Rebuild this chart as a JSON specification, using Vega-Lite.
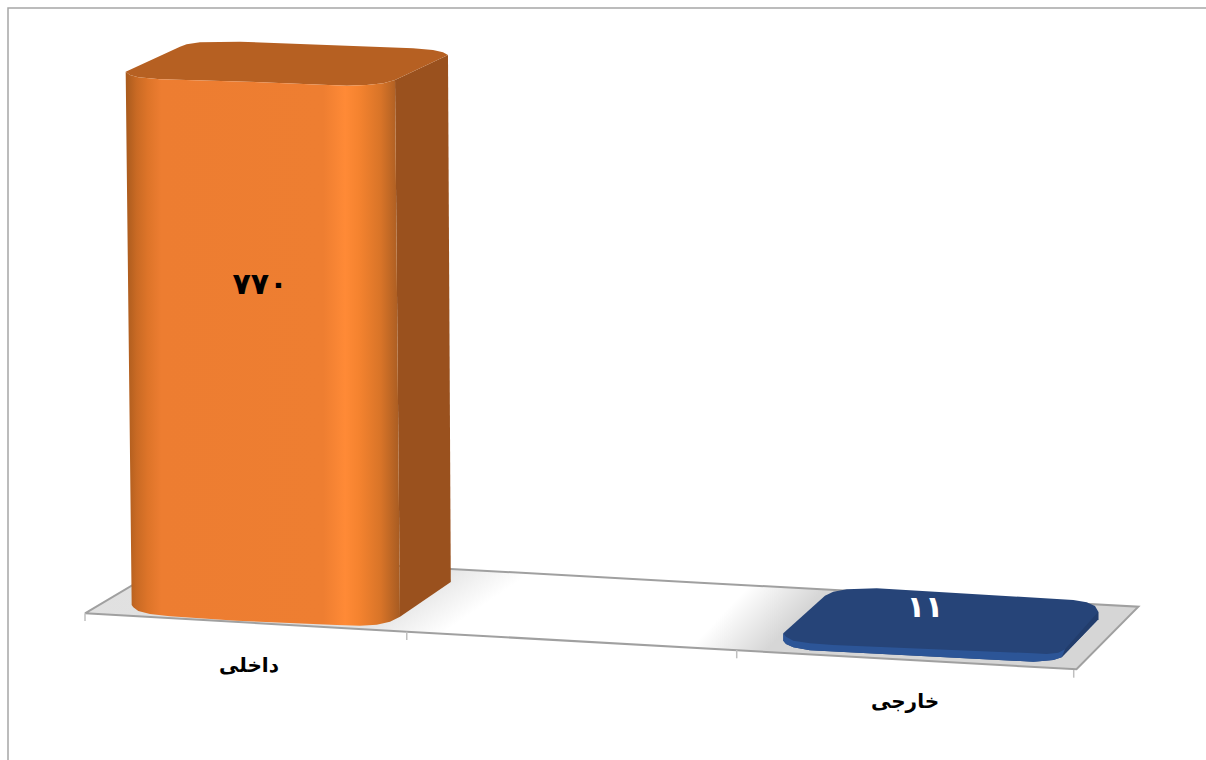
{
  "$schema": "https://vega.github.io/schema/vega-lite/v6.json",
  "width": 1198,
  "height": 752,
  "padding": {"left": 8, "top": 8, "right": 0, "bottom": 0},
  "autosize": {"type": "none"},
  "background": "white",
  "config": {"view": {"stroke": null}},
  "datasets": {
    "bars": [
      {"category": "داخلی", "value": 770, "label": "۷۷۰", "axisPos": 0.3313, "axisLevel": -65.7, "labelPos": 0.3535, "labelLevel": 478},
      {"category": "خارجی", "value": 11, "label": "۱۱", "axisPos": 1.6566, "axisLevel": -117.1, "labelPos": 1.697, "labelLevel": 17.1}
    ],
    "frame": [
      {"pos": -0.15556, "height": -200},
      {"pos": -0.15556, "height": 874.29},
      {"pos": 2.26465, "height": 874.29}
    ],
    "floor": [
      {"pos": 0, "height": 9.6},
      {"pos": 0.202, "height": 94.3},
      {"pos": 0.739, "height": 72.9},
      {"pos": 1.242, "height": 53.3},
      {"pos": 2.128, "height": 19},
      {"pos": 2.003, "height": -70.4},
      {"pos": 0.65, "height": -16.7},
      {"pos": 0, "height": 9.6}
    ],
    "shadeLeft": [
      {"pos": 0, "height": 9.6},
      {"pos": 0.202, "height": 94.3},
      {"pos": 0.919, "height": 65.9},
      {"pos": 0.717, "height": -19.3}
    ],
    "shadeRight": [
      {"pos": 1.222, "height": -39.3},
      {"pos": 1.343, "height": 49.3},
      {"pos": 2.128, "height": 19},
      {"pos": 2.003, "height": -70.4}
    ],
    "ticks": [
      {"pos": 0, "height": 9.6, "end": -1.4},
      {"pos": 0.65, "height": -16.7, "end": -28.6},
      {"pos": 1.3166, "height": -42.9, "end": -54.7},
      {"pos": 1.9974, "height": -71.4, "end": -82.4}
    ],
    "orangeSide": [
      {"pos": 0.6263, "height": 771.4},
      {"pos": 0.7333, "height": 807.1},
      {"pos": 0.739, "height": 54.3},
      {"pos": 0.6364, "height": 4.7}
    ],
    "orangeTop": [
      {"pos": 0.0822, "height": 783.3},
      {"pos": 0.1919, "height": 819},
      {"pos": 0.2053, "height": 822.4},
      {"pos": 0.2323, "height": 825.3},
      {"pos": 0.3131, "height": 826.1},
      {"pos": 0.6626, "height": 816.7},
      {"pos": 0.703, "height": 814.3},
      {"pos": 0.7232, "height": 811},
      {"pos": 0.7333, "height": 807.1},
      {"pos": 0.6263, "height": 771.4},
      {"pos": 0.6027, "height": 766.7},
      {"pos": 0.5691, "height": 764.3},
      {"pos": 0.5287, "height": 763.3},
      {"pos": 0.3267, "height": 769},
      {"pos": 0.1515, "height": 772.4},
      {"pos": 0.1077, "height": 775.3},
      {"pos": 0.0909, "height": 778.6}
    ],
    "orangeFront": [
      {"pos": 0.0822, "height": 783.3},
      {"pos": 0.0909, "height": 778.6},
      {"pos": 0.1077, "height": 775.3},
      {"pos": 0.1515, "height": 772.4},
      {"pos": 0.3267, "height": 769},
      {"pos": 0.5287, "height": 763.3},
      {"pos": 0.5691, "height": 764.3},
      {"pos": 0.6027, "height": 766.7},
      {"pos": 0.6263, "height": 771.4},
      {"pos": 0.6364, "height": 4.7},
      {"pos": 0.6162, "height": -2.4},
      {"pos": 0.5893, "height": -6.7},
      {"pos": 0.5556, "height": -8.1},
      {"pos": 0.5085, "height": -7.1},
      {"pos": 0.3065, "height": -1},
      {"pos": 0.1717, "height": 5.3},
      {"pos": 0.1313, "height": 8.6},
      {"pos": 0.1077, "height": 12.9},
      {"pos": 0.0976, "height": 18.1},
      {"pos": 0.0943, "height": 21.4}
    ],
    "blueTop": [
      {"pos": 1.4107, "height": -19},
      {"pos": 1.4949, "height": 34.7},
      {"pos": 1.5117, "height": 40.4},
      {"pos": 1.5388, "height": 43.8},
      {"pos": 1.5994, "height": 45.3},
      {"pos": 1.9966, "height": 28.6},
      {"pos": 2.0236, "height": 25.3},
      {"pos": 2.0404, "height": 20},
      {"pos": 2.0471, "height": 11.9},
      {"pos": 2.0471, "height": 1},
      {"pos": 1.9731, "height": -53.3},
      {"pos": 1.9562, "height": -57.1},
      {"pos": 1.9158, "height": -59.6},
      {"pos": 1.4646, "height": -43.3},
      {"pos": 1.4309, "height": -39},
      {"pos": 1.4162, "height": -34.3},
      {"pos": 1.4107, "height": -29.6}
    ],
    "blueSide": [
      {"pos": 2.0471, "height": 11.9},
      {"pos": 2.0471, "height": 1},
      {"pos": 1.9731, "height": -53.3},
      {"pos": 1.9798, "height": -41.9}
    ],
    "blueFront": [
      {"pos": 1.4107, "height": -19},
      {"pos": 1.4162, "height": -23.9},
      {"pos": 1.4309, "height": -29.6},
      {"pos": 1.4646, "height": -33.3},
      {"pos": 1.5117, "height": -35.7},
      {"pos": 1.9158, "height": -47.6},
      {"pos": 1.9428, "height": -48.6},
      {"pos": 1.9663, "height": -46.7},
      {"pos": 1.9798, "height": -41.9},
      {"pos": 1.9731, "height": -53.3},
      {"pos": 1.9562, "height": -57.1},
      {"pos": 1.9293, "height": -59},
      {"pos": 1.9158, "height": -59.6},
      {"pos": 1.4646, "height": -43.3},
      {"pos": 1.4309, "height": -39},
      {"pos": 1.4162, "height": -34.3},
      {"pos": 1.4107, "height": -29.6}
    ]
  },
  "encoding": {
    "x": {"field": "pos", "type": "quantitative", "axis": null, "scale": {"domain": [-0.15556, 2.26465], "nice": false, "zero": false}},
    "y": {"field": "height", "type": "quantitative", "axis": null, "scale": {"domain": [-200, 874.29], "nice": false, "zero": false}},
    "order": {"value": null}
  },
  "layer": [
    {"data": {"name": "frame"}, "mark": {"type": "line", "stroke": "#a6a6a6", "strokeWidth": 1.5}},
    {"data": {"name": "floor"}, "mark": {"type": "line", "stroke": null, "fill": "#ffffff"}},
    {
      "data": {"name": "shadeLeft"},
      "mark": {
        "type": "line",
        "stroke": null,
        "fill": {
          "gradient": "linear", "x1": 0, "y1": 0, "x2": 0.977, "y2": 0.25,
          "stops": [
            {"offset": 0, "color": "#e0e0e0"},
            {"offset": 0.8, "color": "#e2e2e2"},
            {"offset": 1, "color": "#ffffff"}
          ]
        }
      }
    },
    {
      "data": {"name": "shadeRight"},
      "mark": {
        "type": "line",
        "stroke": null,
        "fill": {
          "gradient": "linear", "x1": 0.1295, "y1": 0.0234, "x2": 0.3, "y2": 0.054,
          "stops": [
            {"offset": 0, "color": "#ffffff"},
            {"offset": 1, "color": "#d6d6d6"}
          ]
        }
      }
    },
    {"data": {"name": "floor"}, "mark": {"type": "line", "stroke": "#a0a0a0", "strokeWidth": 2}},
    {
      "data": {"name": "ticks"},
      "mark": {"type": "rule", "stroke": "#bfbfbf", "strokeWidth": 1.5},
      "encoding": {"y2": {"field": "end"}}
    },
    {"data": {"name": "orangeSide"}, "mark": {"type": "line", "stroke": null, "fill": "#9a511e"}},
    {"data": {"name": "orangeTop"}, "mark": {"type": "line", "stroke": null, "fill": "#b66022"}},
    {
      "data": {"name": "orangeFront"},
      "mark": {
        "type": "line",
        "stroke": null,
        "fill": {
          "gradient": "linear", "x1": 0, "y1": 0, "x2": 1, "y2": 0,
          "stops": [
            {"offset": 0, "color": "#a85a1d"},
            {"offset": 0.04, "color": "#c96a24"},
            {"offset": 0.08, "color": "#dd7429"},
            {"offset": 0.13, "color": "#ed7d31"},
            {"offset": 0.72, "color": "#ee7e31"},
            {"offset": 0.8, "color": "#ff8a36"},
            {"offset": 0.85, "color": "#f5832f"},
            {"offset": 0.93, "color": "#d87428"},
            {"offset": 1, "color": "#a65b22"}
          ]
        }
      }
    },
    {"data": {"name": "blueTop"}, "mark": {"type": "line", "stroke": null, "fill": "#264478"}},
    {"data": {"name": "blueSide"}, "mark": {"type": "line", "stroke": null, "fill": "#223d6c"}},
    {"data": {"name": "blueFront"}, "mark": {"type": "line", "stroke": null, "fill": "#2c5597"}},
    {
      "data": {"name": "bars"},
      "mark": {"type": "text", "font": "DejaVu Sans", "fontWeight": "bold", "fontSize": 30, "baseline": "middle", "align": "center"},
      "encoding": {
        "x": {"field": "labelPos", "type": "quantitative"},
        "y": {"field": "labelLevel", "type": "quantitative"},
        "text": {"field": "label"},
        "color": {"field": "category", "type": "nominal", "legend": null, "scale": {"domain": ["داخلی", "خارجی"], "range": ["#000000", "#ffffff"]}}
      }
    },
    {
      "data": {"name": "bars"},
      "mark": {"type": "text", "font": "DejaVu Sans", "fontWeight": "bold", "fontSize": 20, "baseline": "middle", "align": "center", "color": "#000000"},
      "encoding": {
        "x": {"field": "axisPos", "type": "quantitative"},
        "y": {"field": "axisLevel", "type": "quantitative"},
        "text": {"field": "category"}
      }
    }
  ]
}
